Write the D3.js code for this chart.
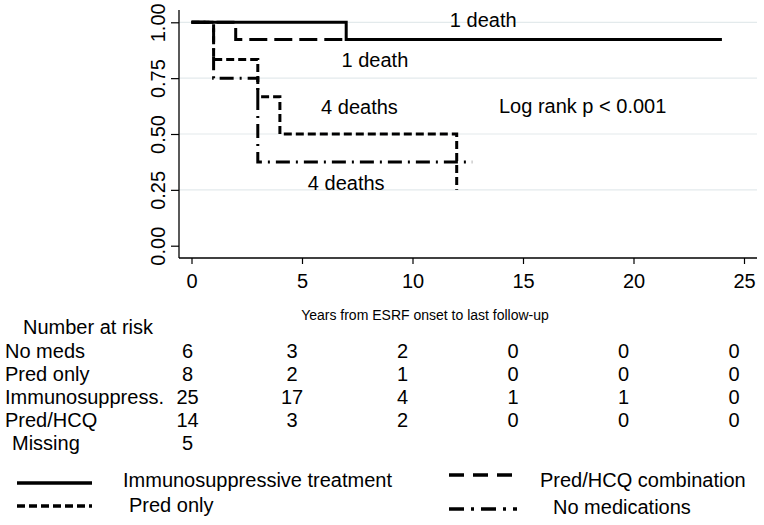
<!DOCTYPE html>
<html>
<head>
<meta charset="utf-8">
<script src="https://cdn.jsdelivr.net/npm/d3@7/dist/d3.min.js"></script>
<style>
  html, body { margin: 0; padding: 0; background: #fff; }
  svg { display: block; font-family: "Liberation Sans", Arial, sans-serif; }
</style>
</head>
<body>
<svg id="chart" width="764" height="525"></svg>
<script>
// ---- data ----
const xTicks = [0, 5, 10, 15, 20, 25];
const yTicks = [0, 0.25, 0.5, 0.75, 1];

// Kaplan-Meier step curves (time, survival)
const immunoTimes = [0, 7, 24];
const immunoSurv  = [1, 0.923, 0.923];
const predHcqTimes = [0, 2, 12];
const predHcqSurv  = [1, 0.923, 0.923];
const predOnlyTimes = [0, 1, 3, 4, 12];
const predOnlySurv  = [1, 0.833, 0.667, 0.5, 0.25];
const noMedsTimes = [0, 1, 3, 12.7];
const noMedsSurv  = [1, 0.75, 0.375, 0.375];

const riskGroups = ["No meds", "Pred only", "Immunosuppress.", "Pred/HCQ"];
const riskNoMeds   = [6, 3, 2, 0, 0, 0];
const riskPredOnly = [8, 2, 1, 0, 0, 0];
const riskImmuno   = [25, 17, 4, 1, 1, 0];
const riskPredHcq  = [14, 3, 2, 0, 0, 0];
const missingCount = 5;

const annotations = [
  { text: "1 death", t: 13.2, s: 0.979 },
  { text: "1 death", t: 8.3, s: 0.80 },
  { text: "4 deaths", t: 7.6, s: 0.59 },
  { text: "4 deaths", t: 7.0, s: 0.249 },
  { text: "Log rank p < 0.001", t: 17.7, s: 0.594 }
];

const legendItems = [
  { label: "Immunosuppressive treatment", dash: null },
  { label: "Pred/HCQ combination", dash: "15,9" },
  { label: "Pred only", dash: "8,4" },
  { label: "No medications", dash: "15,7,3,7" }
];

// ---- layout ----
const svg = d3.select("#chart");
const x = d3.scaleLinear().domain([0, 25]).range([191.5, 744]);
const y = d3.scaleLinear().domain([0, 1]).range([245.7, 22.3]);
const plotLeft = 179, plotRight = 757, plotTop = 10, plotBottom = 258;
const fontSize = 20;

// gridlines
svg.append("g").selectAll("line")
  .data(yTicks.filter(d => d > 0))
  .join("line")
  .attr("x1", plotLeft).attr("x2", plotRight)
  .attr("y1", d => y(d)).attr("y2", d => y(d))
  .attr("stroke", "#e3eaec").attr("stroke-width", 1.2);

// axes
const yAxis = svg.append("g").attr("transform", `translate(${plotLeft},0)`)
  .call(d3.axisLeft(y).tickValues(yTicks).tickFormat(d3.format(".2f")).tickSize(8));
yAxis.select(".domain").remove();
yAxis.selectAll(".tick line").attr("stroke", "#000").attr("stroke-width", 1.2);
yAxis.selectAll(".tick text")
  .attr("transform", "rotate(-90)")
  .attr("x", 0).attr("y", -14).attr("dy", 0)
  .style("text-anchor", "middle")
  .style("font-size", fontSize + "px")
  .style("font-family", "'Liberation Sans', Arial, sans-serif")
  .attr("fill", "#000");

const xAxis = svg.append("g").attr("transform", `translate(0,${plotBottom})`)
  .call(d3.axisBottom(x).tickValues(xTicks).tickSize(6).tickPadding(10));
xAxis.select(".domain").remove();
xAxis.selectAll(".tick line").attr("stroke", "#000").attr("stroke-width", 1.2);
xAxis.selectAll(".tick text")
  .style("font-size", fontSize + "px")
  .style("font-family", "'Liberation Sans', Arial, sans-serif")
  .attr("fill", "#000");

svg.append("line").attr("x1", plotLeft).attr("x2", plotLeft)
  .attr("y1", plotTop).attr("y2", plotBottom)
  .attr("stroke", "#000").attr("stroke-width", 1.3);
svg.append("line").attr("x1", plotLeft).attr("x2", plotRight)
  .attr("y1", plotBottom).attr("y2", plotBottom)
  .attr("stroke", "#000").attr("stroke-width", 1.3);

// x-axis title
svg.append("text").attr("x", 425).attr("y", 320)
  .attr("text-anchor", "middle").style("font-size", "14px")
  .text("Years from ESRF onset to last follow-up");

// curves
const line = d3.line().x(d => x(d[0])).y(d => y(d[1])).curve(d3.curveStepAfter);
const curves = [
  { times: noMedsTimes, surv: noMedsSurv, dash: "14,6,2,6" },
  { times: predOnlyTimes, surv: predOnlySurv, dash: "8,4" },
  { times: predHcqTimes, surv: predHcqSurv, dash: "18,7" },
  { times: immunoTimes, surv: immunoSurv, dash: null }
];
svg.append("g").selectAll("path")
  .data(curves)
  .join("path")
  .attr("d", c => line(c.times.map((t, i) => [t, c.surv[i]])))
  .attr("fill", "none")
  .attr("stroke", "#000")
  .attr("stroke-width", 3)
  .attr("stroke-dasharray", c => c.dash);

// annotations
svg.append("g").selectAll("text")
  .data(annotations)
  .join("text")
  .attr("x", d => x(d.t)).attr("y", d => y(d.s))
  .attr("text-anchor", "middle")
  .style("font-size", fontSize + "px")
  .text(d => d.text);

// number at risk table
const rowY = [358, 381, 404, 427];
svg.append("text").attr("x", 23).attr("y", 334).style("font-size", fontSize + "px").text("Number at risk");
const riskRows = [riskNoMeds, riskPredOnly, riskImmuno, riskPredHcq];
riskGroups.forEach((g, i) => {
  svg.append("text").attr("x", 5).attr("y", rowY[i]).style("font-size", fontSize + "px").text(g);
  svg.append("g").selectAll("text")
    .data(riskRows[i])
    .join("text")
    .attr("x", (d, j) => j === 0 ? x(xTicks[j]) - 4 : x(xTicks[j]) - 10)
    .attr("y", rowY[i])
    .attr("text-anchor", "middle")
    .style("font-size", fontSize + "px")
    .text(d => d);
});
svg.append("text").attr("x", 12).attr("y", 450).style("font-size", fontSize + "px").text("Missing");
svg.append("text").attr("x", x(0) - 4).attr("y", 450).attr("text-anchor", "middle")
  .style("font-size", fontSize + "px").text(missingCount);

// legend
const legendPos = [
  { lx1: 17, lx2: 92, ly: 483, tx: 123, ty: 487 },
  { lx1: 449, lx2: 515, ly: 475, tx: 540, ty: 487 },
  { lx1: 17, lx2: 92, ly: 506, tx: 129, ty: 512 },
  { lx1: 449, lx2: 517, ly: 509, tx: 553, ty: 514 }
];
legendItems.forEach((it, i) => {
  const p = legendPos[i];
  svg.append("line").attr("x1", p.lx1).attr("x2", p.lx2).attr("y1", p.ly).attr("y2", p.ly)
    .attr("stroke", "#000").attr("stroke-width", 3.5)
    .attr("stroke-dasharray", it.dash);
  svg.append("text").attr("x", p.tx).attr("y", p.ty).style("font-size", fontSize + "px").text(it.label);
});
</script>
</body>
</html>
